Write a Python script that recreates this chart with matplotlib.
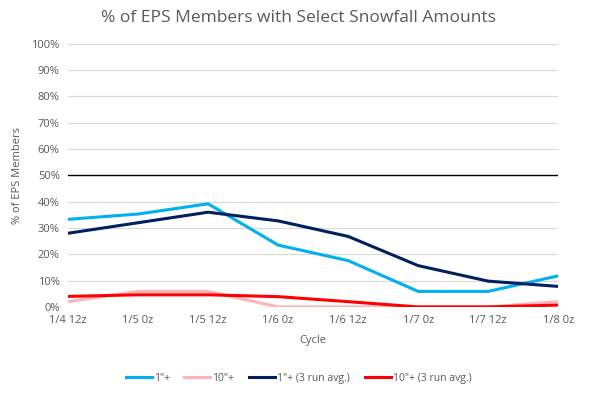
import numpy as np
import matplotlib.pyplot as plt

cycles = ["1/4 12z", "1/5 0z", "1/5 12z", "1/6 0z", "1/6 12z", "1/7 0z", "1/7 12z", "1/8 0z"]
one_inch = [33.3, 35.3, 39.2, 23.5, 17.6, 5.9, 5.9, 11.8]
ten_inch = [2.0, 5.9, 5.9, 0.0, 0.0, 0.0, 0.0, 2.0]
one_inch_avg = [28.0, 32.0, 36.0, 32.7, 26.8, 15.7, 9.8, 7.8]
ten_inch_avg = [4.0, 4.6, 4.6, 3.9, 2.0, 0.0, 0.0, 0.7]
yticks = list(range(0, 101, 10))

plt.rcParams['font.family'] = ['Open Sans', 'DejaVu Sans']
grey = '#595959'

fig = plt.figure(figsize=(5.97, 3.95), dpi=100)
ax = fig.add_axes([0.114, 0.223, 0.821, 0.666])
x = np.arange(len(cycles))

for yv in yticks:
    if yv == 50:
        ax.axhline(yv, color='black', lw=1.0, zorder=1)
    else:
        ax.axhline(yv, color='#d9d9d9', lw=0.8, zorder=0)

ax.plot(x, one_inch, color='#00B0F0', lw=2.2, label='1"+', zorder=3)
ax.plot(x, ten_inch, color='#FFB3B8', lw=2.2, label='10"+', zorder=3)
ax.plot(x, one_inch_avg, color='#002060', lw=2.2, label='1"+ (3 run avg.)', zorder=4)
ax.plot(x, ten_inch_avg, color='#FF0000', lw=2.2, label='10"+ (3 run avg.)', zorder=4)

ax.set_xlim(0, len(cycles) - 1)
ax.set_ylim(0, 100)
ax.set_yticks(yticks)
ax.set_yticklabels([f"{v}%" for v in yticks])
ax.set_xticks(x)
ax.set_xticklabels(cycles)
ax.tick_params(length=0, labelsize=8, colors=grey, pad=6)
for s in ax.spines.values():
    s.set_visible(False)

ax.set_xlabel('Cycle', fontsize=8, color=grey, labelpad=6)
ax.set_ylabel('% of EPS Members', fontsize=8, color=grey, labelpad=6)
fig.suptitle('% of EPS Members with Select Snowfall Amounts', fontsize=12.5, color=grey, y=0.975)

ax.legend(loc='upper center', bbox_to_anchor=(0.47, -0.215), ncol=4, frameon=False,
          fontsize=7.5, labelcolor=grey, handlelength=2.5, columnspacing=1.4, handletextpad=0.2)

fig.savefig('out.png', dpi=100)
